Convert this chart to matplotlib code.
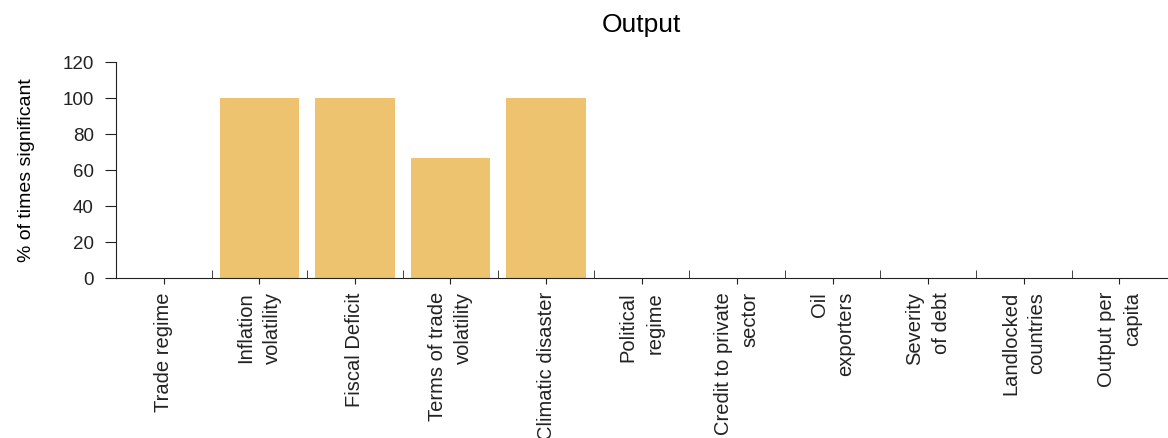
import numpy as np
import matplotlib
matplotlib.use("Agg")
import matplotlib.pyplot as plt
from matplotlib.ticker import FixedLocator

plt.rcParams['font.family'] = ['Liberation Sans', 'DejaVu Sans']

categories = ["Trade regime", "Inflation\nvolatility", "Fiscal Deficit",
              "Terms of trade\nvolatility", "Climatic disaster", "Political\nregime",
              "Credit to private\nsector", "Oil\nexporters", "Severity\nof debt",
              "Landlocked\ncountries", "Output per\ncapita"]
values = [0, 100, 100, 66.7, 100, 0, 0, 0, 0, 0, 0]

fig = plt.figure(figsize=(11.68, 4.38), dpi=100)
ax = fig.add_axes([0.0993, 0.365, 0.9, 0.493])

x = np.arange(len(categories))
ax.bar(x, values, width=0.83, color='#EEC370')

ax.set_xlim(-0.5, len(categories) - 0.5)
ax.set_ylim(0, 120)
ax.set_yticks(np.arange(0, 121, 20))
ax.set_xticks(x)
ax.set_xticklabels(categories, rotation=90, ha='center', va='top',
                   multialignment='right', fontsize=14.5, linespacing=1.5)
ax.xaxis.set_minor_locator(FixedLocator(np.arange(0.5, len(categories) - 0.5, 1)))
ax.tick_params(axis='x', which='major', direction='out', length=4, pad=6)
ax.tick_params(axis='x', which='minor', direction='in', length=6)
ax.tick_params(axis='y', direction='out', length=8, pad=8, labelsize=13.5)

for s in ['top', 'right']:
    ax.spines[s].set_visible(False)
for s in ['left', 'bottom']:
    ax.spines[s].set_color('#222222')
ax.tick_params(colors='#222222', which='both')

ax.set_ylabel("% of times significant", fontsize=14, labelpad=20)
ax.set_title("Output", fontsize=19, pad=22)

fig.savefig("out.png", dpi=100)
